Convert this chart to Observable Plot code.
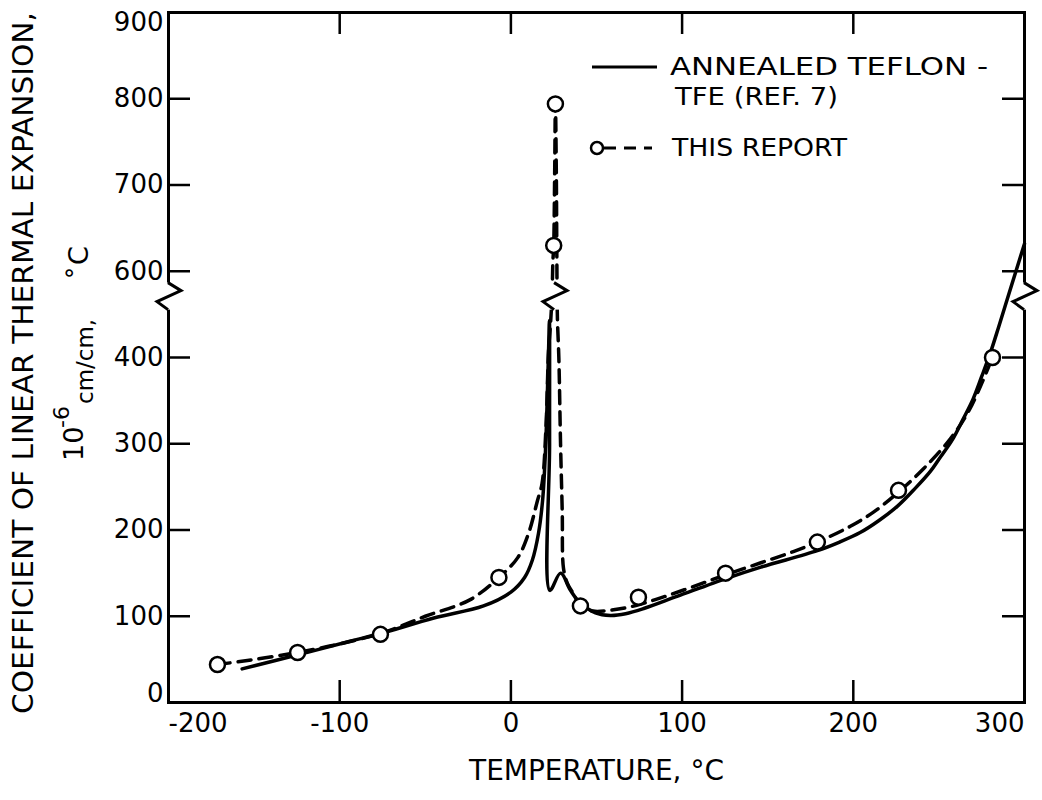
<!DOCTYPE html>
<html>
<head>
<meta charset="utf-8">
<script src="https://cdn.jsdelivr.net/npm/d3@7"></script>
<script src="https://cdn.jsdelivr.net/npm/@observablehq/plot@0.6"></script>
<style>
  html, body { margin: 0; padding: 0; background: #fff; }
  #chart svg { display: block; }
</style>
</head>
<body>
<div id="chart"></div>
<script>
// Coefficient of linear thermal expansion of Teflon TFE vs temperature.
// Temperatures in °C, coefficients in 10^-6 cm/cm/°C.

// Annealed Teflon TFE (Ref. 7) — solid curve
const refTemp = [-157, -125, -94, -76, -45, -16, 0, 8, 12.5, 16.1, 18.5, 20.2, 22, 22.5, 22.6, 22.8,
  29, 34.8, 40.6, 49.4, 58, 67, 77.6, 97, 126, 146, 179, 192, 204, 215, 226, 236, 245, 250, 258,
  264, 270, 275, 280, 285, 290, 295, 300];
const refCoef = [39, 55, 71, 80, 98, 112, 128, 145, 165, 196, 234, 292, 416, 486, 300, 130,
  150, 130, 115, 104, 101, 103, 109, 123, 144, 157, 176, 186, 197, 211, 228, 248, 268, 282, 305,
  328, 352, 378, 410, 472, 536, 600, 632];

// This report — faired curve (dashed)
const reportTemp = [-171.4, -124.6, -76.2, -50, -24, -7, 4, 10.3, 15.5, 18.2, 20.5, 22, 23, 24, 24.5, 25,
  25.6, 26, 26.5, 26.8, 27, 27.2, 28, 29, 30, 30.7, 33, 36.6, 40.6, 48, 58, 70, 87, 106, 125.4,
  146, 165, 179, 198, 212, 226.4, 241, 256.8, 268, 281.3];
const reportCoef = [44, 58, 80, 100, 119, 145, 168, 196, 234, 254, 320, 416, 470, 540, 610, 630,
  720, 794, 720, 630, 540, 486, 400, 300, 220, 156, 138, 126, 112, 106, 107, 111, 121, 134, 148,
  162, 175, 186, 204, 221, 244, 271, 306, 340, 400];

// This report — measured points
const pointTemp = [-171.4, -124.6, -76.2, -7, 25, 26, 40.6, 74.5, 125.4, 179, 226.4, 281.3];
const pointCoef = [44, 58, 79, 145, 630, 794, 112, 122, 150, 186, 246, 400];

// Axis ticks
const xTicks = [-200, -100, 0, 100, 200, 300];
const yTicks = [0, 100, 200, 300, 400, 600, 700, 800, 900];

// Broken value axis: 400–600 is squeezed into half its height
const brk = v => v <= 400 ? v : v >= 600 ? v - 100 : 400 + (v - 400) / 2;
const unbrk = t => t <= 400 ? t : t >= 500 ? t + 100 : 400 + (t - 400) * 2;
const breakAt = 540;         // value where the break symbols are drawn
const curveBreakTemp = 25.5; // temperature of the break symbol on the peak

// Layout
const W = 1042, H = 800, mL = 168, mR = 18, mT = 12, mB = 98;
const innerW = W - mL - mR, innerH = H - mT - mB;
const tickLen = 22;
const font = "DejaVu Sans";

const refRows = refTemp.map((t, i) => ({t, c: refCoef[i]}));
const reportRows = reportTemp.map((t, i) => ({t, c: reportCoef[i]}));
const pointRows = pointTemp.map((t, i) => ({t, c: pointCoef[i]}));

const fmtX = d => d < 0 ? "-" + Math.abs(d) : String(d);
const yT = yTicks.map(brk);
const yInner = yT.slice(1, -1);
const xInner = xTicks.slice(1, -1);

// zigzag break symbol (pixel offsets around its centre)
const zig = [[0, -14], [13, -6], [-11, 5], [0, 13]];
function breakSymbol(g, cx, cy, halfWidth) {
  g.append("rect")
    .attr("x", cx - halfWidth).attr("y", cy - 14)
    .attr("width", 2 * halfWidth).attr("height", 27)
    .attr("fill", "white");
  g.append("path")
    .attr("d", d3.line()(zig.map(([dx, dy]) => [cx + dx, cy + dy])))
    .attr("fill", "none").attr("stroke", "black")
    .attr("stroke-width", 3).attr("stroke-linejoin", "miter");
}

const breaks = (index, scales, values, dims) => {
  const g = d3.create("svg:g");
  const cy = scales.y(brk(breakAt));
  breakSymbol(g, dims.marginLeft, cy, 4);
  breakSymbol(g, dims.width - dims.marginRight, cy, 4);
  breakSymbol(g, scales.x(curveBreakTemp), cy, 12);
  return g.node();
};

const axisText = {tickSize: 0, fontSize: 26, label: null};

const chart = Plot.plot({
  width: W, height: H,
  marginLeft: mL, marginRight: mR, marginTop: mT, marginBottom: mB,
  style: {fontFamily: font, fontSize: "26px", color: "black", background: "white"},
  x: {domain: [-200, 300]},
  y: {domain: [0, 800]},
  marks: [
    Plot.line(refRows, {x: "t", y: d => brk(d.c), stroke: "black", strokeWidth: 3.5, curve: "catmull-rom"}),
    Plot.line(reportRows, {x: "t", y: d => brk(d.c), stroke: "black", strokeWidth: 3.5,
      strokeDasharray: "13,8", curve: "catmull-rom"}),
    Plot.dot(pointRows, {x: "t", y: d => brk(d.c), r: 7.5, stroke: "black", strokeWidth: 2.5, fill: "white"}),
    Plot.frame({stroke: "black", strokeWidth: 3}),
    breaks,
    // inward ticks on all four sides
    Plot.tickY(yInner, {y: d => d, insetRight: innerW - tickLen, strokeWidth: 2.5}),
    Plot.tickY(yInner, {y: d => d, insetLeft: innerW - tickLen, strokeWidth: 2.5}),
    Plot.tickX(xInner, {x: d => d, insetTop: innerH - tickLen, strokeWidth: 2.5}),
    Plot.tickX(xInner, {x: d => d, insetBottom: innerH - tickLen, strokeWidth: 2.5}),
    // tick labels
    Plot.axisY(yT.slice(1, -1), {...axisText, tickPadding: 5, tickFormat: unbrk}),
    Plot.axisY([yT[yT.length - 1]], {...axisText, tickPadding: 5, tickFormat: unbrk, dy: 10}),
    Plot.axisY([yT[0]], {...axisText, tickPadding: 5, tickFormat: unbrk, dy: -9}),
    Plot.axisX(xInner, {...axisText, tickPadding: 11, tickFormat: fmtX}),
    Plot.axisX([xTicks[0]], {...axisText, tickPadding: 11, tickFormat: fmtX, textAnchor: "start"}),
    Plot.axisX([xTicks[xTicks.length - 1]], {...axisText, tickPadding: 11, tickFormat: fmtX, textAnchor: "end"}),
    Plot.text(["TEMPERATURE, °C"], {text: d => d, frameAnchor: "bottom", dy: 77, fontSize: 28})
  ]
});

const svg = d3.select(chart);

// value-axis title (two lines, rotated)
svg.append("text")
  .attr("transform", "translate(33,363) rotate(-90)")
  .attr("text-anchor", "middle")
  .attr("font-size", 29)
  .attr("textLength", 702)
  .attr("lengthAdjust", "spacingAndGlyphs")
  .attr("fill", "black")
  .text("COEFFICIENT OF LINEAR THERMAL EXPANSION,");

const unit = svg.append("text").attr("transform", "rotate(-90)")
  .attr("text-anchor", "start").attr("fill", "black");
unit.append("tspan").attr("x", -461).attr("y", 83).attr("font-size", 27).text("10");
unit.append("tspan").attr("x", -428).attr("y", 69).attr("font-size", 22).text("-6");
unit.append("tspan").attr("x", -404).attr("y", 93).attr("font-size", 23).text("cm/cm,");
unit.append("tspan").attr("x", -279).attr("y", 84).attr("font-size", 24).text("°");
unit.append("tspan").attr("x", -265).attr("y", 88).attr("font-size", 27).text("C");

// legend
const lg = svg.append("g").attr("fill", "black").attr("font-size", 25).attr("text-anchor", "start");
lg.append("line").attr("x1", 592).attr("x2", 657).attr("y1", 67).attr("y2", 67)
  .attr("stroke", "black").attr("stroke-width", 3);
lg.append("text").attr("x", 670).attr("y", 75)
  .attr("textLength", 318).attr("lengthAdjust", "spacingAndGlyphs").text("ANNEALED TEFLON -");
lg.append("text").attr("x", 675).attr("y", 105)
  .attr("textLength", 163).attr("lengthAdjust", "spacingAndGlyphs").text("TFE (REF. 7)");
lg.append("line").attr("x1", 604).attr("x2", 652).attr("y1", 148).attr("y2", 148)
  .attr("stroke", "black").attr("stroke-width", 3).attr("stroke-dasharray", "12,8");
lg.append("circle").attr("cx", 597).attr("cy", 148).attr("r", 6)
  .attr("fill", "white").attr("stroke", "black").attr("stroke-width", 2.5);
lg.append("text").attr("x", 672).attr("y", 156)
  .attr("textLength", 175).attr("lengthAdjust", "spacingAndGlyphs").text("THIS REPORT");

document.getElementById("chart").append(chart);
</script>
</body>
</html>
